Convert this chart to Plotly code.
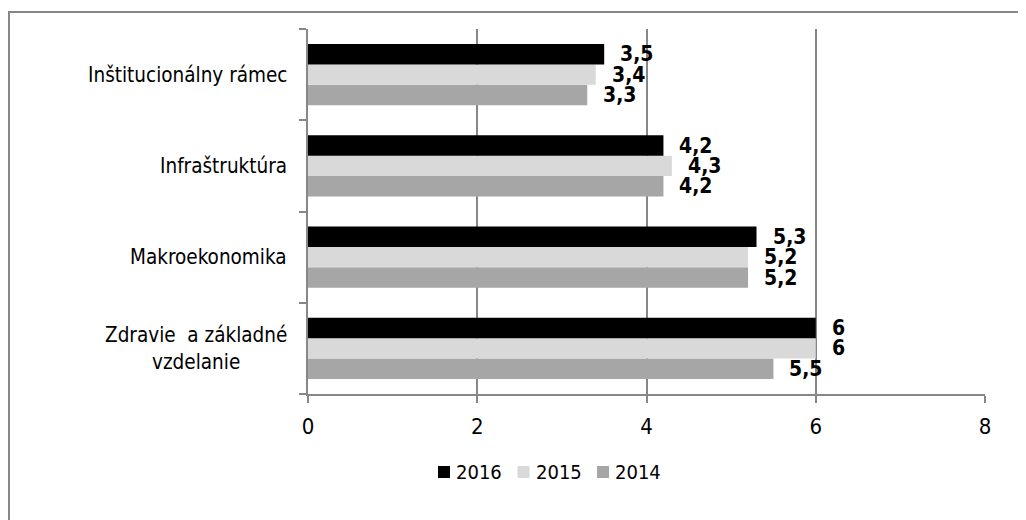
import plotly.graph_objects as go

# ---- data ----
categories = ["Zdravie  a základné vzdelanie", "Makroekonomika", "Infraštruktúra", "Inštitucionálny rámec"]
category_labels = ["Zdravie  a základné<br>vzdelanie", "Makroekonomika", "Infraštruktúra", "Inštitucionálny rámec"]
years = ["2014", "2015", "2016"]
legend_years = ["2016", "2015", "2014"]
values_2014 = [5.5, 5.2, 4.2, 3.3]
values_2015 = [6.0, 5.2, 4.3, 3.4]
values_2016 = [6.0, 5.3, 4.2, 3.5]
x_ticks = [0, 2, 4, 6, 8]

series = {"2014": values_2014, "2015": values_2015, "2016": values_2016}
colors = {"2014": "#a6a6a6", "2015": "#d9d9d9", "2016": "#000000"}

# ---- layout constants (figure pixels) ----
W, H = 1026, 520
M_L, M_R, M_T, M_B = 300, 49, 21, 134
BARGAP = 0.33
FONT = "DejaVu Sans Condensed, DejaVu Sans, sans-serif"
GRID = "#878787"

plot_w = W - M_L - M_R
plot_h = H - M_T - M_B
band_px = plot_h / len(categories)
bar_px = band_px * (1 - BARGAP) / len(years)


def px_x(px):
    return (px - M_L) / plot_w


def px_y(py):
    return (H - M_B - py) / plot_h


fig = go.Figure()
for y in years:
    fig.add_trace(go.Bar(
        y=categories, x=series[y], name=y, orientation="h",
        marker=dict(color=colors[y], line=dict(width=0)),
        hoverinfo="x+name", showlegend=False,
    ))


def fmt(v):
    return f"{v:g}".replace(".", ",")


annotations = []
for i, y in enumerate(years):
    shift = (i - 1) * bar_px
    for c, v in zip(categories, series[y]):
        annotations.append(dict(
            x=v, y=c, xref="x", yref="y", text=fmt(v), showarrow=False,
            xanchor="left", yanchor="middle", xshift=14, yshift=shift,
            font=dict(family=FONT, size=21, color="#000000", weight="bold"),
        ))

for c, lab in zip(categories, category_labels):
    annotations.append(dict(
        x=0, y=c, xref="paper", yref="y", text=lab, showarrow=False,
        xanchor="right", yanchor="middle", xshift=-19, align="center",
        font=dict(family=FONT, size=20.5, color="#000000"),
    ))

# outer chart border (only left and top edges visible in the window)
shapes = [dict(type="path", xref="paper", yref="paper",
               path=f"M {px_x(1)},{px_y(H + 20)} L {px_x(1)},{px_y(4)} L {px_x(W + 20)},{px_y(4)}",
               line=dict(color=GRID, width=2))]

# legend drawn as squares + labels
leg_x0, leg_pitch, leg_cy, sq = 430, 79.5, 464, 12
for k, y in enumerate(legend_years):
    sx = leg_x0 + k * leg_pitch
    shapes.append(dict(type="rect", xref="paper", yref="paper",
                       x0=px_x(sx), x1=px_x(sx + sq),
                       y0=px_y(leg_cy + sq / 2), y1=px_y(leg_cy - sq / 2),
                       fillcolor=colors[y], line=dict(width=0)))
    annotations.append(dict(
        x=px_x(sx + sq + 4), y=px_y(leg_cy), xref="paper", yref="paper",
        text=y, showarrow=False, xanchor="left", yanchor="middle",
        font=dict(family=FONT, size=20, color="#000000"),
    ))

fig.update_layout(
    width=W, height=H,
    margin=dict(l=M_L, r=M_R, t=M_T, b=M_B, pad=0),
    paper_bgcolor="white", plot_bgcolor="white",
    barmode="group", bargap=BARGAP, bargroupgap=0,
    font=dict(family=FONT, size=20, color="#000000"),
    showlegend=False,
    xaxis=dict(range=[0, 8], tickvals=x_ticks, ticktext=[str(t) for t in x_ticks],
               showgrid=True, gridcolor=GRID, gridwidth=1.5,
               showline=True, linecolor=GRID, linewidth=2,
               ticks="outside", ticklen=7, tickcolor=GRID, tickwidth=2,
               tickfont=dict(family=FONT, size=22, color="#000000"),
               ticklabelstandoff=5, zeroline=False, fixedrange=True),
    yaxis=dict(categoryorder="array", categoryarray=categories,
               showticklabels=False, showgrid=False, zeroline=False,
               showline=True, linecolor=GRID, linewidth=2,
               ticks="outside", ticklen=7, tickcolor=GRID, tickwidth=2,
               tickson="boundaries", fixedrange=True),
    annotations=annotations,
    shapes=shapes,
)

fig.write_html("out.html")
